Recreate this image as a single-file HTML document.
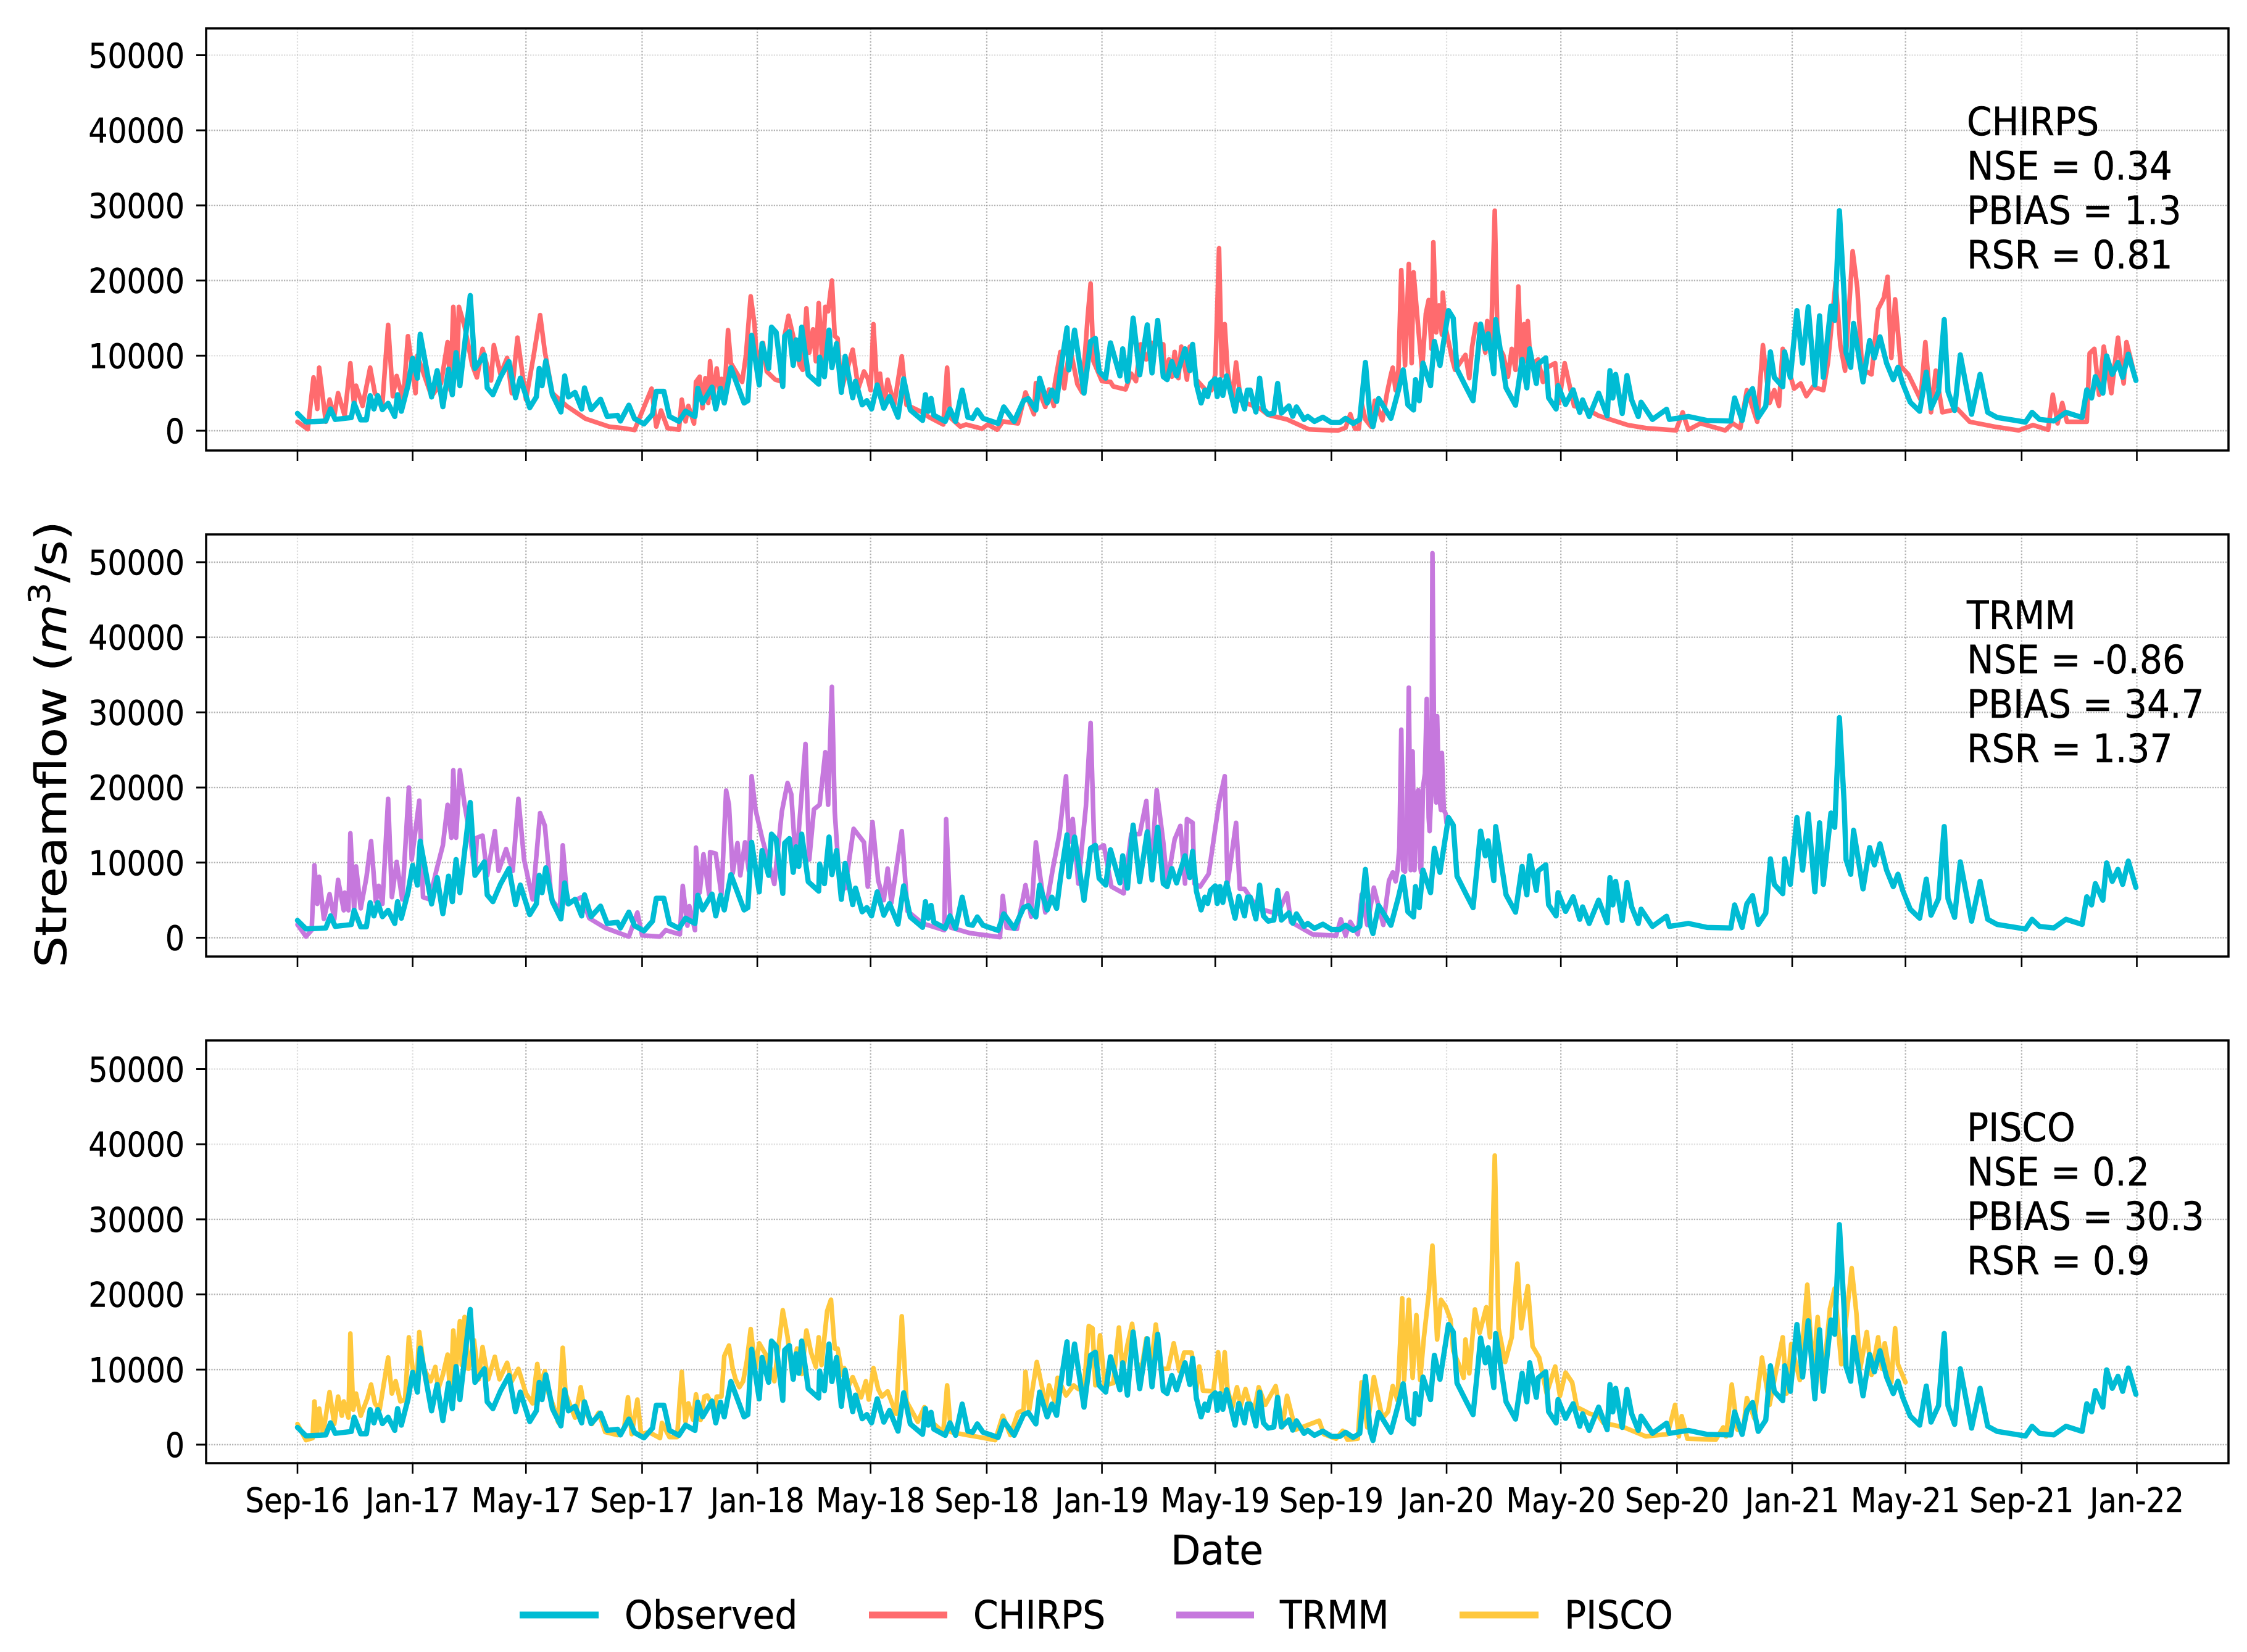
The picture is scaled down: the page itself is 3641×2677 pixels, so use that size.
<!DOCTYPE html>
<html lang="en">
<head>
<meta charset="utf-8">
<title>Streamflow comparison</title>
<style>
html,body{margin:0;padding:0;background:#fff;}
svg{display:block;}
text{font-family:"DejaVu Sans","Liberation Sans",sans-serif;fill:#000;stroke:#000;stroke-width:0.5px;}
</style>
</head>
<body>
<svg id="chart" xmlns="http://www.w3.org/2000/svg" width="3641" height="2677" viewBox="0 0 3641 2677">
  <rect x="0" y="0" width="3641" height="2677" fill="#fff"/>
  <g id="panels"></g>
  <text transform="translate(107,1206) rotate(-90) scale(1,0.87)" text-anchor="middle" font-size="80">Streamflow (<tspan font-style="italic">m</tspan><tspan font-size="55" dy="-30">3</tspan><tspan dy="30">/s)</tspan></text>
  <text transform="translate(1972,2535) scale(0.95,1)" text-anchor="middle" font-size="66">Date</text>
  <g>
    <g>
      <line x1="842" x2="970" y1="2617" y2="2617" stroke="#00BCD4" stroke-width="11"/>
      <text transform="translate(1012,2639) scale(0.925,1)" font-size="63">Observed</text>
    </g>
    <g>
      <line x1="1408" x2="1535" y1="2617" y2="2617" stroke="#FF6B6E" stroke-width="11"/>
      <text transform="translate(1577,2639) scale(0.925,1)" font-size="63">CHIRPS</text>
    </g>
    <g>
      <line x1="1906" x2="2032" y1="2617" y2="2617" stroke="#C678DD" stroke-width="11"/>
      <text transform="translate(2074,2639) scale(0.925,1)" font-size="63">TRMM</text>
    </g>
    <g>
      <line x1="2365" x2="2493" y1="2617" y2="2617" stroke="#FFC83D" stroke-width="11"/>
      <text transform="translate(2535,2639) scale(0.925,1)" font-size="63">PISCO</text>
    </g>
  </g>
</svg>
<script>
const tickLabels = ["Sep-16","Jan-17","May-17","Sep-17","Jan-18","May-18","Sep-18","Jan-19","May-19","Sep-19","Jan-20","May-20","Sep-20","Jan-21","May-21","Sep-21","Jan-22"];
const tickDays = [0,122,242,365,487,607,730,852,972,1095,1217,1338,1461,1583,1703,1826,1948];
const yTickValues = [0,10000,20000,30000,40000,50000];

const observedDays = [
0,9,30,35,40,57,60,67,73,77,81,85,90,96,103,106,110,117,122,127,130,142,148,154,160,164,168,172,183,188,198,201,207,215,224,231,236,246,253,256,259,263,270,279,283,287,294,301,304,311,321,328,339,342,351,357,367,376,380,388,394,
404,411,421,424,429,439,443,448,452,459,473,477,481,489,492,499,502,507,514,516,521,525,528,531,534,541,552,553,558,563,566,571,576,580,588,591,598,603,608,614,621,627,636,642,649,662,665,668,671,674,686,691,697,704,710,715,720,726,742,748,759,769,774,782,786,794,799,804,808,815,817,823,833,840,845,849,856,
861,871,874,879,885,892,900,905,911,917,921,926,931,940,945,948,952,957,961,964,967,972,974,977,980,984,993,997,1003,1006,1009,1015,1019,1023,1028,1034,1038,1042,1050,1054,1058,1066,1070,1077,1086,1095,1104,1110,1118,1125,1131,1136,1139,1145,1158,1166,1171,1176,1182,1184,1188,
1192,1200,1204,1210,1219,1224,1228,1238,1245,1250,1253,1258,1261,1267,1269,1274,1280,1290,1297,1302,1305,1312,1314,1322,1325,1333,1335,1343,1351,1358,1361,1368,1378,1387,1390,1393,1396,1403,1408,1413,1420,1423,1435,1450,1453,1473,1493,1518,1522,1530,1535,1541,1547,1555,1560,1564,1573,1575,1581,1588,1594,1600,1607,1612,1616,1624,1628,1633,1638,1640,1645,1648,1658,1665,1670,1676,1683,1690,1695,1700,1708,1718,1725,1730,1738,1744,1748,1755,1761,1773,1782,1790,1800,1820,1830,1837,1845,1860,1873,1890,1895,1900,1904,1912,1916,1922,1928,1933,1939,1947
];
const observedValues = [
2300,1170,1300,2900,1500,1750,3650,1450,1450,4670,2900,4670,2800,3650,1900,4800,2600,6000,9640,7000,12850,4500,8000,3200,8200,4800,10400,6000,18000,8300,10100,5700,4800,7150,9200,4400,7000,3070,4500,8300,6000,9300,4800,2500,7300,4500,5100,2900,5700,2800,4200,1900,2050,1300,3400,1600,900,2200,5250,5250,1900,
1240,2600,1900,5650,3700,5800,2900,5650,3700,8400,3700,4000,12700,6100,11600,8300,13800,13100,5900,12600,13200,8700,12100,9500,13800,7450,6200,9800,7200,13400,8400,11600,5100,9900,4400,6600,3450,4000,2900,6100,3000,4550,1800,6900,2760,1380,4800,2600,4300,2070,1240,2900,1240,5400,1800,1650,2760,1650,970,3170,1240,4000,4280,2760,7000,3700,5400,3900,7900,13700,8100,13400,5000,11900,12300,7900,7000,
11700,7300,10900,6600,15000,7450,14100,7700,14700,7200,6800,9200,7300,10900,8000,11500,6200,3700,5400,4550,6300,6900,4550,6800,4700,7300,2600,5500,2900,5400,5400,2500,7000,2900,2200,2350,6300,2350,3300,1930,3170,1500,1900,1240,1800,1100,1100,1650,970,1500,9100,1800,550,4280,1650,5400,8100,3450,2760,6800,4000,
9000,6000,11900,8700,16000,15000,8200,5700,4000,10200,14200,10900,12900,7600,14800,10600,5700,3400,9500,5700,10900,6300,8900,9700,4400,2900,6000,3500,5450,2450,4100,1900,5000,2000,8000,4360,7500,2300,7350,4100,1900,3800,1500,2860,1500,1900,1360,1300,4360,1360,4500,5600,1770,3270,10500,7100,5860,10500,7100,16000,9000,16500,6100,15300,7100,16600,14700,29300,18000,10400,8450,14300,6500,12000,9700,12500,9000,6800,8450,6300,3800,2600,7800,3000,5200,14800,5200,2700,10100,2200,7500,2450,1770,1360,1150,2450,1500,1300,2450,1770,5450,4360,7200,5000,9950,7500,9100,7100,10200,6700
];

const chirpsDays = [
0,11,17,21,23,30,34,39,43,50,56,60,62,69,77,82,90,96,101,105,112,117,125,127,135,142,152,159,162,165,169,171,177,185,190,196,205,208,215,222,227,233,242,250,257,262,270,285,305,330,345,357,375,380,385,392,
404,407,411,414,420,422,426,429,432,435,437,440,444,448,449,452,456,459,467,471,475,480,484,487,493,497,506,514,516,520,525,532,535,539,542,546,549,552,556,559,562,566,569,572,576,588,594,600,604,607,610,614,617,621,625,632,640,645,661,669,684,688,691,702,708,725,731,741,747,763,771,780,782,792,796,801,802,808,812,818,826,831,837,840,843,852,
861,864,877,883,888,893,899,905,917,918,923,926,929,933,936,942,945,952,957,962,968,972,976,979,982,985,990,994,999,1020,1028,1048,1060,1071,1095,1102,1110,1115,1120,1124,1127,1131,1137,1141,1149,1154,1158,1160,1163,1166,1169,1173,1177,1180,1182,1187,1191,1195,1198,1201,1203,1206,1209,1212,1213,1216,1223,1226,1237,1241,1244,1248,1254,1258,1260,1264,1268,1271,1277,1282,1286,1290,1293,1296,1299,1301,1303,1306,1314,
1319,1323,1332,1336,1342,1352,1365,1378,1409,1429,1460,1467,1473,1486,1512,1520,1528,1535,1546,1552,1559,1564,1569,1573,1585,1592,1598,1605,1616,1621,1629,1634,1639,1647,1652,1657,1667,1674,1680,1684,1688,1692,1698,1706,1719,1724,1730,1735,1742,1758,1771,1797,1823,1838,1854,1859,1864,1869,1874,1895,1898,1903,1908,1913,1921,1928,1934,1937,1947
];
const chirpsValues = [
1190,200,7100,2900,8400,1200,4150,2000,5000,2000,9000,3300,6000,3300,8400,5000,3700,14100,4600,7300,4150,12600,5000,10000,7100,4600,6300,11800,5400,16500,7500,16500,13900,8800,7100,10900,6700,11400,7500,9700,5000,12400,4150,9900,15400,10500,5000,3300,1600,550,340,100,5600,550,2700,340,
140,4140,1240,3300,960,6500,7200,3000,7000,3700,9250,4300,8300,4550,6900,4300,13400,9000,7300,6500,10100,17900,14200,8700,11700,7900,6800,6500,12700,15300,12600,8700,8100,16300,10400,13500,9250,17000,9000,16500,15900,20000,12600,12300,5400,10800,5650,7900,7000,5400,14200,5400,7600,3000,6800,3450,9900,3450,2500,1800,830,8400,1800,550,830,280,830,140,1240,970,5100,2200,6350,3170,5500,3300,6200,10500,5650,11200,6200,5100,15300,19600,9250,6600,
6500,5900,5500,7600,6600,11500,9500,11700,11500,7300,9500,7200,10500,7000,11200,6800,11200,6800,6100,5400,5400,7500,24300,7300,14200,8100,4000,9100,4000,2900,2100,1500,830,190,50,30,400,2200,280,280,3700,1500,550,4000,1400,5100,7450,8400,5400,8100,21400,8700,22200,9000,21100,13700,8100,15600,17400,10900,25100,13100,16700,12800,18400,13700,9500,8100,10100,7000,11200,14200,13100,10400,14600,11500,29300,11500,10100,7200,10900,8100,19200,8400,14200,9250,14600,8700,9500,
6500,8400,9000,3700,9000,3300,2900,2000,760,340,50,2460,130,975,50,975,340,5400,1190,11400,3700,5400,3300,10900,5600,6300,4600,5850,5400,9200,19800,11400,8000,23900,19000,8200,7500,16200,17700,20500,9700,17500,8600,7500,4150,11800,2460,8000,2460,2900,1190,550,50,760,130,4800,975,3700,1190,1190,10300,10900,4800,11200,5000,12400,6300,11800,6700
];

const trmmDays = [
0,9,15,18,21,23,28,34,39,43,49,50,54,56,60,62,67,73,78,83,86,90,96,100,105,111,118,121,129,133,140,147,154,159,163,165,168,172,177,183,188,190,196,201,209,213,221,228,234,240,249,257,262,269,278,281,286,301,309,326,351,360,365,384,390,405,408,413,415,421,422,426,430,436,437,443,449,454,457,461,466,469,474,478,481,485,492,505,513,519,523,528,538,542,547,553,559,562,566,569,574,580,589,
600,604,609,615,621,625,629,640,646,662,685,687,692,712,744,747,751,762,771,777,782,786,792,800,807,814,817,821,827,835,840,844,854,862,875,883,892,899,904,910,917,921,929,935,940,942,948,950,956,965,976,982,985,994,998,1003,1017,1038,1048,1052,1075,1100,1105,1110,1115,1123,1127,1133,1140,1150,1156,1160,1163,1165,1167,1169,1171,1173,1175,1177,1179,1181,1183,1185,1187,1189,1190,1192,1194,1196,1198,1199,1201,1202,1204,1206,1207,1209,1211,1212,1214,1216,1217
];
const trmmValues = [
1750,150,1000,9640,4500,8100,2500,5800,2500,7700,3650,6000,3650,13900,3650,9500,3900,8000,12850,4800,6900,4500,18500,5400,10100,5100,20000,10400,18250,5400,5100,8900,12300,17700,13300,22300,13300,22300,17700,13300,8600,13300,13600,8300,14200,8900,11800,8900,18500,10400,5100,16600,14900,5100,3650,12300,4500,5400,2600,1300,150,3350,300,150,1000,440,6900,1600,4200,1000,12000,6000,11100,5700,11400,11200,5700,19600,17700,8600,12600,8300,12700,8900,21500,17100,13300,7150,16800,20600,19100,9500,25800,10400,17100,17700,24700,17700,33400,16800,7400,6570,14500,
12700,6800,15400,7600,5000,9200,4650,14200,3550,1900,1000,15800,1350,620,70,5560,1350,1170,7000,2800,12700,8700,3370,9200,13800,21500,12700,15800,7200,17500,28600,11600,12300,6800,5900,13800,13800,18200,8300,19650,12700,7200,13100,14900,7200,15800,15300,7200,6800,8500,18000,21500,7200,15300,6500,6500,3900,3180,5900,2100,440,260,2450,260,2100,440,5750,1700,6660,1700,7600,8700,7500,9000,12000,27700,9000,8800,14000,33300,9000,24800,9000,19000,19650,9500,8700,20000,21850,31800,16000,14200,20000,51200,22000,18000,29500,19000,17000,24600,17000,16500,15260
];

const piscoDays = [
0,9,16,18,21,23,27,34,39,43,47,49,54,56,59,62,67,74,78,82,87,96,100,104,109,114,118,122,126,129,134,141,146,149,154,159,162,165,168,172,174,177,181,187,192,196,202,209,214,222,227,234,242,249,254,257,262,266,271,276,281,284,294,300,304,312,319,326,339,346,350,354,360,364,372,384,386,394,402,407,411,414,419,422,427,431,434,442,444,449,452,457,461,464,468,472,476,480,485,489,496,
502,505,514,519,524,529,534,539,544,549,552,555,561,565,569,572,577,579,584,588,597,602,605,610,615,619,625,634,640,645,657,664,669,684,688,692,709,722,739,747,755,763,769,771,775,783,789,792,796,802,805,814,822,827,833,838,842,845,850,855,864,870,874,879,884,889,894,899,904,909,915,922,928,934,939,947,952,955,959,970,975,979,982,985,990,995,999,1004,1012,1018,
1025,1036,1043,1048,1057,1082,1087,1100,1107,1112,1123,1127,1133,1140,1149,1155,1160,1165,1170,1172,1177,1181,1185,1189,1193,1198,1202,1207,1211,1216,1221,1224,1230,1235,1237,1241,1247,1252,1259,1263,1268,1272,1279,1286,1292,1296,1303,1308,1315,1323,1332,1337,1343,1350,1355,1369,1378,1383,1405,1428,1451,1459,1463,1466,1472,1502,1510,1513,1519,1525,1531,1535,1543,1551,1559,1573,1577,1582,1591,1599,1605,1610,1615,1623,1628,1635,1646,1651,1655,1662,1667,1674,1678,1681,1688,1692,1695,1703
];
const piscoValues = [
2750,600,870,5750,1700,4800,1400,7000,2760,6400,3850,5750,3600,14800,4650,6800,3850,6150,8000,5500,4650,11600,6800,8450,5750,6000,14300,10100,7400,15000,10100,8450,10350,7400,9300,12000,6000,15200,10100,16450,10600,17000,10100,13900,8700,13000,8700,11700,8700,10900,8450,10100,6800,5500,10750,7900,9800,6800,5200,3000,12900,6800,3600,7650,4650,2760,4250,1680,1270,2200,6300,1400,6000,1400,1680,870,2900,1000,1000,9700,3040,5500,3300,6700,3300,6400,6550,4650,6400,6400,11800,13200,10100,8700,7650,8450,11200,15400,10100,13500,12000,
9800,8450,17900,14400,9300,12800,9400,15200,12250,10350,14300,10600,17800,19300,12800,12800,9300,10200,7900,9000,6300,8450,6000,10200,7400,6400,7100,4100,17100,5750,3040,5000,3300,1680,7900,1680,1270,1000,600,3850,1270,4250,4650,9700,4650,11000,7400,4650,7900,5750,8900,6550,7900,7400,7400,15800,15500,7900,14550,7900,8200,15600,9800,13300,16100,10900,10100,14150,10350,16000,10100,10100,13500,9800,12250,12250,7400,10400,7200,7100,12300,7100,12300,7400,4900,7650,5200,7400,3850,7650,
5300,7800,2300,6500,2000,3200,1400,800,1850,660,800,8300,2300,9000,3500,4400,7800,5900,19500,8600,19300,8900,17250,8600,14300,20000,26500,14000,19300,18400,16700,12500,10700,8900,14000,9500,18000,14900,18300,14300,38500,15500,11000,14300,24100,15500,21100,13100,11600,6800,10400,6500,9600,8300,5000,4100,3800,2900,2300,1100,1400,5300,1100,3800,800,660,2300,1100,8000,2000,2000,6200,3500,11600,5300,14300,6800,13400,8600,21300,9500,17000,7400,18100,20800,10700,23500,17500,10100,15000,9300,14300,10100,13500,8300,15500,10700,8300
];

const panelNames = ["chirps","trmm","pisco"];
const panelStats = [
  ["CHIRPS","NSE = 0.34","PBIAS = 1.3","RSR = 0.81"],
  ["TRMM","NSE = -0.86","PBIAS = 34.7","RSR = 1.37"],
  ["PISCO","NSE = 0.2","PBIAS = 30.3","RSR = 0.9"]
];
const faintVerticalGrid = [[0,1,8,9,10,15],[0,1,8],[0,1,9,10]];
const faintHorizontalGrid = [[50000,10000],[],[50000,40000]];

const SVGNS = "http://www.w3.org/2000/svg";
const panelTops = [46,866,1686];
const panelBottoms = [730,1550,2371];
const panelZeros = [698,1519.5,2341];
const AX_L = 334, AX_R = 3611;
const X0 = 482, X1 = 3462.5, DAY_SPAN = 1948;
const PX_PER_UNIT = 121.7/10000;

function xScale(day){ return X0 + day*(X1-X0)/DAY_SPAN; }
function yScale(value, panel){ return panelZeros[panel] - value*PX_PER_UNIT; }
function make(tag, parent){
  const el = document.createElementNS(SVGNS, tag);
  parent.appendChild(el);
  return el;
}
function setLine(el,x1,y1,x2,y2,stroke,width){
  el.setAttribute("x1",x1); el.setAttribute("y1",y1);
  el.setAttribute("x2",x2); el.setAttribute("y2",y2);
  el.setAttribute("stroke",stroke); el.setAttribute("stroke-width",width);
}
function pathFor(days, values, panel){
  return days.map(function(d,i){ return xScale(d).toFixed(1)+","+yScale(values[i],panel).toFixed(1); }).join(" ");
}
function drawSeries(parent, days, values, panel, color, width, name){
  const line = make("polyline", parent);
  
  
  line.setAttribute("points", pathFor(days, values, panel));
  line.setAttribute("fill","none");
  line.setAttribute("stroke",color);
  line.setAttribute("stroke-width",width);
  line.setAttribute("stroke-linejoin","round");
  line.setAttribute("stroke-linecap","round");
}

const simDays = [chirpsDays,trmmDays,piscoDays];
const simValues = [chirpsValues,trmmValues,piscoValues];
const simColors = ["#FF6B6E","#C678DD","#FFC83D"];
const root = document.getElementById("panels");

panelNames.forEach(function(pname,p){
  const g = make("g", root);
  
  

  tickDays.forEach(function(d,i){
    const grid = make("line", g);
    
    
    setLine(grid,xScale(d),panelTops[p],xScale(d),panelBottoms[p],"#999",2.2);
    grid.setAttribute("stroke-dasharray","2.2 3");
    grid.setAttribute("opacity",faintVerticalGrid[p].indexOf(i)>=0?"0.35":"0.8");
  });
  yTickValues.forEach(function(v){
    const grid = make("line", g);
    
    
    setLine(grid,AX_L,yScale(v,p),AX_R,yScale(v,p),"#999",2.4);
    grid.setAttribute("stroke-dasharray","2.2 2");
    grid.setAttribute("opacity",faintHorizontalGrid[p].indexOf(v)>=0?"0.3":"0.75");
  });

  drawSeries(g, simDays[p], simValues[p], p, simColors[p], 7.5, pname + '-series');
  drawSeries(g, observedDays, observedValues, p, "#00BCD4", 8.5, 'observed-series-' + pname);

  const frame = make("rect", g);
  
  
  frame.setAttribute("x",AX_L); frame.setAttribute("y",panelTops[p]);
  frame.setAttribute("width",AX_R-AX_L); frame.setAttribute("height",panelBottoms[p]-panelTops[p]);
  frame.setAttribute("fill","none"); frame.setAttribute("stroke","#000"); frame.setAttribute("stroke-width",3.5);

  tickDays.forEach(function(d,i){
    const tick = make("line", g);
    
    
    setLine(tick,xScale(d),panelBottoms[p],xScale(d),panelBottoms[p]+17,"#000",2.6);
    if(p===2){
      const lab = make("text", g);
      
      
      lab.setAttribute("transform","translate("+xScale(d)+",2450) scale(0.89,1)");
      lab.setAttribute("text-anchor","middle");
      lab.setAttribute("font-size","54");
      lab.textContent = tickLabels[i];
    }
  });
  yTickValues.forEach(function(v){
    const tick = make("line", g);
    
    
    setLine(tick,AX_L-16,yScale(v,p),AX_L,yScale(v,p),"#000",3);
    const lab = make("text", g);
    
    
    lab.setAttribute("transform","translate(299,"+(yScale(v,p)+20)+") scale(0.89,1)");
    lab.setAttribute("text-anchor","end");
    lab.setAttribute("font-size","55");
    lab.textContent = String(v);
  });

  const annotationBase = [219,1019,1849];
  panelStats[p].forEach(function(t,i){
    const ann = make("text", g);
    
    
    ann.setAttribute("transform","translate(3187,"+(annotationBase[p]+i*72)+") scale(0.925,1)");
    ann.setAttribute("font-size","63");
    ann.textContent = t;
  });
});
</script>
</body>
</html>
